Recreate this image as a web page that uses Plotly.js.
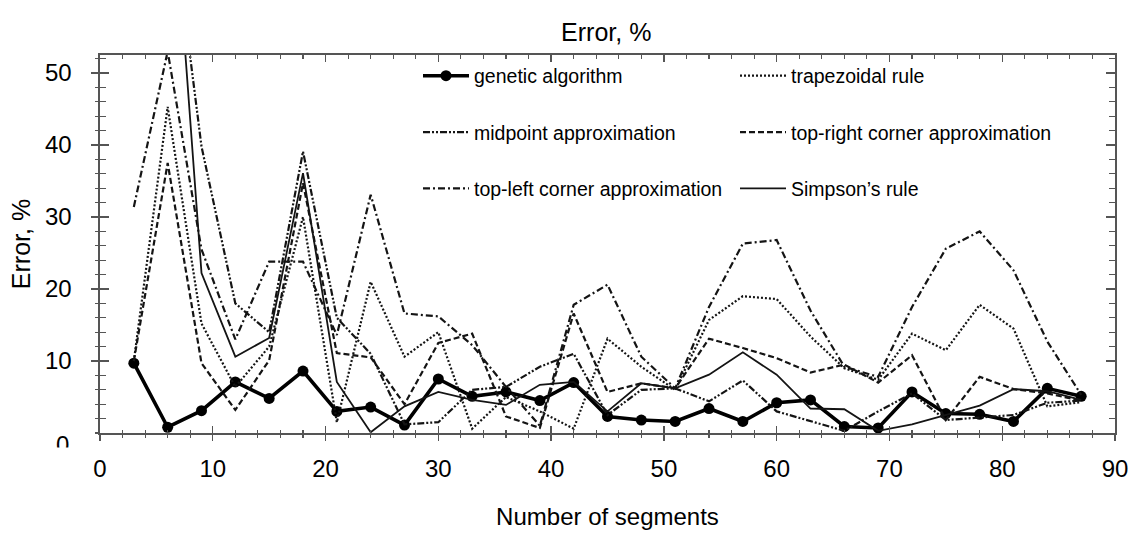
<!DOCTYPE html>
<html><head><meta charset="utf-8">
<script src="https://cdn.plot.ly/plotly-3.0.1.min.js"></script>
<style>html,body{margin:0;padding:0;background:#fff}#chart{width:1129px;height:533px}</style>
</head><body><div id="chart"></div>
<script>
const segments = [3,6,9,12,15,18,21,24,27,30,33,36,39,42,45,48,51,54,57,60,63,66,69,72,75,78,81,84,87];
const genetic     = [9.7,0.8,3.1,7.1,4.8,8.6,3.0,3.6,1.1,7.5,5.1,5.7,4.5,7.0,2.3,1.8,1.6,3.4,1.6,4.2,4.6,0.9,0.7,5.7,2.7,2.6,1.6,6.2,5.1];
const trapezoidal = [10,45.3,15.2,6.4,12,30.0,1.5,21.0,10.6,14,0.6,5,3,0.6,13.1,9.2,6.0,15.7,19.0,18.6,13.4,9,7.4,13.8,11.5,17.8,14.5,3.7,4.3];
const midpoint    = [null,77,39.8,18,14,39.1,16,11,1.2,1.5,6,6.4,9.2,11,2.5,6.0,6.2,4.4,7.3,3.0,1.6,0.3,3,5.5,1.8,2.2,2.5,4.2,4.5];
const topRight    = [10,37.5,9.7,3.2,10.1,34.7,11.1,10.5,4,12.5,13.8,2.3,0.7,16.6,5.7,6.9,6.2,13.1,11.8,10.4,8.4,9.5,7.0,10.8,1.8,7.8,6.1,5.5,4.5];
const topLeft     = [31.4,53,25.5,13,23.8,23.8,13.6,33.1,16.6,16.2,12.2,6.4,1.0,17.8,20.6,10.6,6.2,17.5,26.3,26.8,17,9.2,7.8,17.5,25.6,28,22.6,12.7,5.3];
const simpson     = [null,86,22.2,10.6,13.2,36.1,7.1,0.1,3.7,5.7,4.6,3.9,6.7,7.1,3.0,6.9,6.2,8.1,11.2,8.1,3.4,3.3,0.3,1.2,2.5,3.8,6.1,5.8,4.6];
const names = ['genetic algorithm','trapezoidal rule','midpoint approximation','top-right corner approximation','top-left corner approximation','Simpson\u2019s rule'];
const xTicks = [0,10,20,30,40,50,60,70,80,90];
const yTicks = [10,20,30,40,50];

const FONT = '"Liberation Sans", Arial, sans-serif';
const ink = '#141414';
function line(name, y, dash, width, legend, extra) {
  return Object.assign({
    type:'scatter', mode:'lines', x:segments, y:y, name:name,
    line:{color:ink, width:width, dash:dash}, legend:legend, legendgroup:name,
    cliponaxis:true, connectgaps:false, hoverinfo:'skip'
  }, extra||{});
}
const data = [
  line(names[0], genetic, 'solid', 3.6, 'legend', {mode:'lines+markers', marker:{size:11, color:'#000'}, line:{color:'#000', width:3.6}}),
  line(names[1], trapezoidal, '2px,2px', 2.2, 'legend2'),
  line(names[2], midpoint, '7px,2px,2px,2px,2px,2px', 2.2, 'legend'),
  line(names[3], topRight, '6px,3px', 2.2, 'legend2'),
  line(names[4], topLeft, '7px,3px,2px,3px', 2.2, 'legend'),
  line(names[5], simpson, 'solid', 1.8, 'legend2')
];
data.push({type:'scatter', x:[0], y:[0], xaxis:'x2', yaxis:'y2', mode:'markers', marker:{opacity:0}, showlegend:false, hoverinfo:'skip'});

const axisCol = '#555';
const legendCommon = {font:{family:FONT, size:19.5, color:'#000'}, bgcolor:'rgba(0,0,0,0)', borderwidth:0,
  itemwidth:46, tracegroupgap:28, traceorder:'grouped', xanchor:'left', yanchor:'top', itemclick:false};
const layout = {
  width:1129, height:533,
  margin:{l:100, r:14, t:55, b:100},
  paper_bgcolor:'#fff', plot_bgcolor:'#fff',
  font:{family:FONT, size:24, color:'#000'},
  title:{text:'Error, %', font:{family:FONT, size:25, color:'#000'}, x:0.537, xanchor:'center', y:0.94, yanchor:'middle'},
  showlegend:true,
  legend:Object.assign({x:(418-100)/1015, y:0.996}, legendCommon),
  legend2:Object.assign({x:(735-100)/1015, y:0.996}, legendCommon),
  xaxis:{range:[0,90], tickvals:xTicks, ticktext:xTicks.map(String), ticks:'outside', ticklen:6, tickwidth:1.3, tickcolor:axisCol,
    minor:{dtick:2, ticks:'outside', ticklen:3.5, tickwidth:1.1, tickcolor:axisCol},
    showline:true, linecolor:axisCol, linewidth:1.6, showgrid:false, zeroline:false,
    tickfont:{family:FONT, size:24}, ticklabelstandoff:8, ticklabeloverflow:'allow',
    title:{text:'Number of segments', font:{family:FONT, size:24}, standoff:27}},
  xaxis2:{overlaying:'x', range:[0,90], tickvals:xTicks, ticks:'inside', ticklen:7, tickwidth:1.3, tickcolor:axisCol,
    minor:{dtick:2, ticks:'inside', ticklen:3.5, tickwidth:1.1, tickcolor:axisCol},
    showline:true, mirror:'ticks', linecolor:axisCol, linewidth:1.6, showticklabels:false, showgrid:false, zeroline:false},
  yaxis:{range:[0,52.5], tickvals:yTicks, ticktext:yTicks.map(String), ticks:'outside', ticklen:7, tickwidth:1.3, tickcolor:axisCol,
    minor:{dtick:2, ticks:'outside', ticklen:3.5, tickwidth:1.1, tickcolor:axisCol},
    showline:true, linecolor:axisCol, linewidth:1.6, showgrid:false, zeroline:false,
    tickfont:{family:FONT, size:24}, ticklabelstandoff:15,
    title:{text:'Error, %', font:{family:FONT, size:25}, standoff:7}},
  yaxis2:{overlaying:'y', range:[0,52.5], tickvals:yTicks, ticks:'inside', ticklen:9, tickwidth:1.3, tickcolor:axisCol,
    minor:{dtick:2, ticks:'inside', ticklen:6, tickwidth:1.1, tickcolor:axisCol},
    showline:true, mirror:'ticks', linecolor:axisCol, linewidth:1.6, showticklabels:false, showgrid:false, zeroline:false},
  annotations:[
    {text:'0', xref:'paper', yref:'paper', x:(62-100)/1015, y:(433-445)/378, xanchor:'center', yanchor:'middle', showarrow:false, font:{family:FONT, size:24, color:'#000'}},
    {text:' ', xref:'paper', yref:'paper', x:(62-100)/1015, y:(433-461)/378, xanchor:'center', yanchor:'middle', showarrow:false, width:30, height:25, bgcolor:'#fff', borderpad:0}
  ]
};
Plotly.newPlot('chart', data, layout, {displayModeBar:false, staticPlot:true});
</script></body></html>
